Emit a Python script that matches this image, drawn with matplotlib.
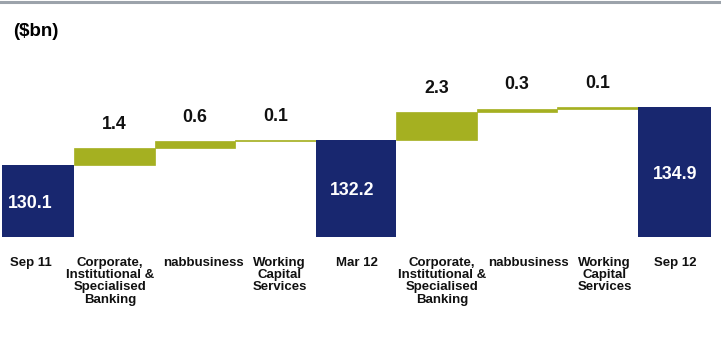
import matplotlib
matplotlib.use("Agg")
import matplotlib.pyplot as plt
from matplotlib.lines import Line2D

plt.rcParams['font.family'] = ['Liberation Sans', 'DejaVu Sans']

# Waterfall of lending balances ($bn)
categories = ["Sep 11", "Corporate,\nInstitutional &\nSpecialised\nBanking", "nabbusiness",
              "Working\nCapital\nServices", "Mar 12", "Corporate,\nInstitutional &\nSpecialised\nBanking",
              "nabbusiness", "Working\nCapital\nServices", "Sep 12"]
totals = {0: 130.1, 4: 132.2, 8: 134.9}
increments = {1: 1.4, 2: 0.6, 3: 0.1, 5: 2.3, 6: 0.3, 7: 0.1}

# horizontal nudges (points) that keep neighbouring category labels apart
label_nudge = [-2, -3, 6, 3, 1, 4, 8, 5, -2]

NAVY = "#18276f"
OLIVE = "#a5b021"

W, H = 721, 338
fig = plt.figure(figsize=(W / 100, H / 100), dpi=100)
ax = fig.add_axes([2 / W, (H - 237) / H, 709 / W, 187 / H])
ymin = 124.1
ax.set_ylim(ymin, 139.68)
ax.set_xlim(-0.393, 8.406)
ax.axis("off")

running = 0.0
for i in range(len(categories)):
    if i in totals:
        val = totals[i]
        ax.bar(i, val - ymin, bottom=ymin, width=1.0, color=NAVY, linewidth=0)
        ax.annotate(f"{val:.1f}", xy=(i, (ymin + val) / 2), xytext=(-2.5, -1.5),
                    textcoords="offset points", color="white",
                    fontsize=12.8, fontweight="bold", ha="center", va="center")
        running = val
    else:
        inc = increments[i]
        ax.bar(i, inc, bottom=running, width=1.0, color=OLIVE,
               edgecolor=OLIVE, linewidth=0.5)
        running += inc
        ax.annotate(f"{inc:.1f}", xy=(i, running), xytext=(0, 17), textcoords="offset points",
                    ha="center", va="center", fontsize=12.8, fontweight="bold", color="#111111")
    ax.annotate(categories[i], xy=(i, ymin), xytext=(label_nudge[i], -14.5),
                textcoords="offset points", ha="center", va="top", fontsize=9.5,
                fontweight="bold", color="#111111", linespacing=1.02,
                annotation_clip=False)

# unit label and top rule
fig.text(13 / W, 1 - 31 / H, "($bn)", fontsize=13.5, fontweight="bold", va="center", ha="left")
fig.add_artist(Line2D([0, 1], [1 - 1.5 / H, 1 - 1.5 / H], transform=fig.transFigure,
                      color="#9ca3ab", linewidth=2.2))

fig.savefig("out.png", dpi=100)
